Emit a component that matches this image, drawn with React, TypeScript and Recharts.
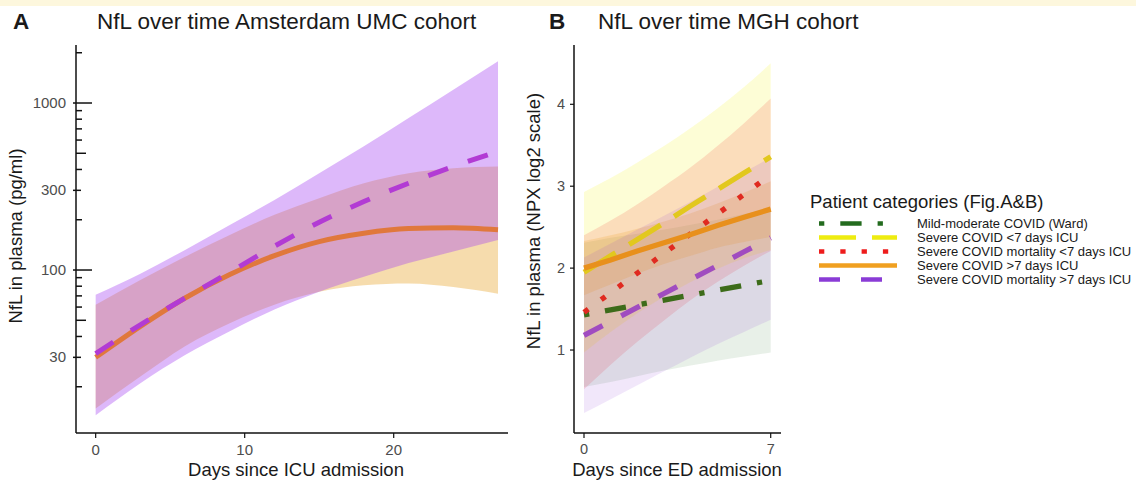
import { ComposedChart, Line, Area, XAxis, YAxis } from 'recharts'

// Panel A: Amsterdam UMC cohort (pg/ml, log10 axis)
const daysA = [0, 3, 6, 9, 12, 15, 18, 21, 24, 27]
const mortLongLineA = [31.6, 47, 68, 97, 139, 193, 257, 331, 417, 513]
const mortLongLowerA = [13.5, 21, 31, 43, 58, 74, 91, 110, 129, 151]
const mortLongUpperA = [71, 95, 132, 186, 263, 380, 550, 813, 1202, 1778]
const icuLongLineA = [30, 46, 68, 94, 122, 148, 166, 177, 179, 174]
const icuLongLowerA = [14.8, 23, 35, 48, 62, 74, 81, 83, 79, 72]
const icuLongUpperA = [62, 87, 120, 162, 214, 269, 331, 380, 407, 417]
const yTicksA = [20, 30, 40, 50, 60, 70, 80, 90, 100, 200, 300, 400, 500, 600, 700, 800, 900, 1000, 2000]
const yLabelledA = [30, 100, 300, 1000]
const xTicksA = [0, 10, 20]

// Panel B: MGH cohort (NPX log2)
const daysB = [0, 1, 2, 3, 4, 5, 6, 7]
const wardLine = [1.43, 1.49, 1.55, 1.61, 1.67, 1.73, 1.79, 1.85]
const wardLower = [0.55, 0.61, 0.68, 0.75, 0.81, 0.87, 0.92, 0.97]
const wardUpper = [2.31, 2.37, 2.42, 2.47, 2.53, 2.59, 2.66, 2.73]
const icuShortLine = [1.95, 2.15, 2.35, 2.55, 2.76, 2.96, 3.16, 3.36]
const icuShortLower = [0.97, 1.22, 1.45, 1.65, 1.83, 1.99, 2.12, 2.22]
const icuShortUpper = [2.93, 3.1, 3.29, 3.49, 3.71, 3.95, 4.21, 4.5]
const mortShortLine = [1.46, 1.7, 1.94, 2.18, 2.42, 2.66, 2.9, 3.14]
const mortShortLower = [0.52, 0.82, 1.1, 1.36, 1.61, 1.83, 2.03, 2.21]
const mortShortUpper = [2.4, 2.58, 2.78, 3.0, 3.23, 3.49, 3.77, 4.07]
const icuLongLine = [2.0, 2.1, 2.21, 2.31, 2.41, 2.52, 2.62, 2.72]
const icuLongLower = [1.67, 1.8, 1.93, 2.05, 2.15, 2.25, 2.32, 2.38]
const icuLongUpper = [2.33, 2.4, 2.48, 2.57, 2.67, 2.79, 2.92, 3.06]
const mortLongLine = [1.18, 1.35, 1.52, 1.69, 1.86, 2.03, 2.2, 2.37]
const mortLongLower = [0.23, 0.4, 0.57, 0.74, 0.91, 1.07, 1.22, 1.37]
const mortLongUpper = [2.13, 2.3, 2.47, 2.64, 2.81, 2.99, 3.17, 3.35]
const yTicksB = [1, 2, 3, 4]
const xTicksB = [0, 7]

const legendLabels = [
  'Mild-moderate COVID (Ward)',
  'Severe COVID <7 days ICU',
  'Severe COVID mortality <7 days ICU',
  'Severe COVID >7 days ICU',
  'Severe COVID mortality >7 days ICU',
]

// styles
const FONT = '"Liberation Sans", Arial, Helvetica, sans-serif'
const INK = '#1a1a1a'
const TICK = '#4d4d4d'
const legendColors = ['#236b1e', '#eeec10', '#ee1c1c', '#f0a020', '#8a3cd6']
const legendDashes = ['5.3 16 21.3 16', '37 16', '5.3 16', undefined, '21 21']

const dataA = daysA.map((d, i) => ({
  day: d,
  mortLine: mortLongLineA[i],
  icuLine: icuLongLineA[i],
  mortBand: [mortLongLowerA[i], mortLongUpperA[i]],
  icuBand: [icuLongLowerA[i], icuLongUpperA[i]],
}))

const dataB = daysB.map((d, i) => ({
  day: d,
  ward: wardLine[i],
  icuShort: icuShortLine[i],
  mortShort: mortShortLine[i],
  icuLong: icuLongLine[i],
  mortLong: mortLongLine[i],
  wardBand: [wardLower[i], wardUpper[i]],
  icuShortBand: [icuShortLower[i], icuShortUpper[i]],
  mortShortBand: [mortShortLower[i], mortShortUpper[i]],
  icuLongBand: [icuLongLower[i], icuLongUpper[i]],
  mortLongBand: [mortLongLower[i], mortLongUpper[i]],
}))

const axisLine = { stroke: '#111', strokeWidth: 1.5 }

function LogTick(props: any) {
  const { x, y, payload } = props
  const v = payload.value
  const lead = Math.round(v / Math.pow(10, Math.floor(Math.log10(v) + 1e-9)))
  let x1 = x
  let x2 = x + 6
  if (lead === 1) {
    x1 = x - 3
    x2 = x + 16
  } else if (lead === 3) {
    x1 = x - 3
    x2 = x + 5
  } else if (lead === 5) {
    x2 = x + 10
  }
  return (
    <g>
      <line x1={x1} x2={x2} y1={y} y2={y} stroke="#111" strokeWidth={1.5} />
      {yLabelledA.includes(v) && (
        <text x={x - 10} y={y} dy={5} textAnchor="end" fill={TICK} fontSize={15}>
          {v}
        </text>
      )}
    </g>
  )
}

export default function App() {
  return (
    <div style={{ position: 'absolute', left: 0, top: 0, width: 1136, height: 482, background: '#fff', fontFamily: FONT }}>
      <div style={{ position: 'absolute', left: 0, top: 0 }}>
        <ComposedChart width={520} height={482} data={dataA} margin={{ top: 45, right: 12, bottom: 19, left: 16 }}>
          <XAxis
            type="number"
            dataKey="day"
            domain={[-1.32, 27.67]}
            ticks={xTicksA}
            allowDataOverflow
            axisLine={axisLine}
            tickLine={{ stroke: '#111', strokeWidth: 1.2 }}
            tickSize={5}
            tickMargin={6}
            height={30}
            tick={{ fill: TICK, fontSize: 15 }}
          />
          <YAxis
            type="number"
            scale="log"
            domain={[10.57, 2225]}
            ticks={yTicksA}
            interval={0}
            allowDataOverflow
            axisLine={axisLine}
            tickLine={false}
            tickSize={0}
            tickMargin={0}
            width={60}
            tick={(p: any) => <LogTick {...p} />}
          />
          <Area type="monotone" dataKey="icuBand" fill="#e6a020" fillOpacity={0.37} stroke="none" isAnimationActive={false} />
          <Area type="monotone" dataKey="mortBand" fill="#a545f2" fillOpacity={0.38} stroke="none" isAnimationActive={false} />
          <Line type="monotone" dataKey="icuLine" stroke="#e0783c" strokeWidth={5} dot={false} isAnimationActive={false} />
          <Line type="monotone" dataKey="mortLine" stroke="#b23bd4" strokeWidth={5} strokeDasharray="21 21" dot={false} isAnimationActive={false} />
        </ComposedChart>
      </div>

      <div style={{ position: 'absolute', left: 520, top: 0 }}>
        <ComposedChart width={280} height={482} data={dataB} margin={{ top: 45, right: 19, bottom: 19, left: 14 }}>
          <XAxis
            type="number"
            dataKey="day"
            domain={[-0.375, 7.386]}
            ticks={xTicksB}
            allowDataOverflow
            axisLine={axisLine}
            tickLine={{ stroke: '#111', strokeWidth: 1.2 }}
            tickSize={5}
            tickMargin={6}
            height={30}
            tick={{ fill: TICK, fontSize: 14.5 }}
          />
          <YAxis
            type="number"
            domain={[-0.013, 4.724]}
            ticks={yTicksB}
            interval={0}
            allowDataOverflow
            axisLine={axisLine}
            tickLine={{ stroke: '#111', strokeWidth: 1.2 }}
            tickSize={4}
            tickMargin={5}
            width={40}
            tick={{ fill: TICK, fontSize: 14.5 }}
          />
          <Area type="monotone" dataKey="wardBand" fill="#1e6e1e" fillOpacity={0.1} stroke="none" isAnimationActive={false} />
          <Area type="monotone" dataKey="icuShortBand" fill="#f0f000" fillOpacity={0.16} stroke="none" isAnimationActive={false} />
          <Area type="monotone" dataKey="mortShortBand" fill="#ee1c1c" fillOpacity={0.14} stroke="none" isAnimationActive={false} />
          <Area type="monotone" dataKey="icuLongBand" fill="#f0a020" fillOpacity={0.2} stroke="none" isAnimationActive={false} />
          <Area type="monotone" dataKey="mortLongBand" fill="#8a3cd6" fillOpacity={0.12} stroke="none" isAnimationActive={false} />
          <Line type="linear" dataKey="ward" stroke="#3d6c1a" strokeWidth={5.3} strokeDasharray="5.3 16 21.3 16" dot={false} isAnimationActive={false} />
          <Line type="linear" dataKey="icuShort" stroke="#e2c81e" strokeWidth={5.3} strokeDasharray="37 16" dot={false} isAnimationActive={false} />
          <Line type="linear" dataKey="mortShort" stroke="#e02a20" strokeWidth={5.3} strokeDasharray="5.3 16" dot={false} isAnimationActive={false} />
          <Line type="linear" dataKey="icuLong" stroke="#e8901c" strokeWidth={5.3} dot={false} isAnimationActive={false} />
          <Line type="linear" dataKey="mortLong" stroke="#a04cc0" strokeWidth={5.3} strokeDasharray="21 21" dot={false} isAnimationActive={false} />
        </ComposedChart>
      </div>

      <svg width={1136} height={482} style={{ position: 'absolute', left: 0, top: 0, pointerEvents: 'none' }}>
        <rect x={0} y={0} width={1136} height={6} fill="#fdf7dd" />
        <text x={13} y={29} fontSize={22.5} fontWeight="bold" fill={INK}>A</text>
        <text x={97} y={29} fontSize={22.5} fill={INK}>NfL over time Amsterdam UMC cohort</text>
        <text x={549} y={29} fontSize={22.5} fontWeight="bold" fill={INK}>B</text>
        <text x={598} y={29} fontSize={22.5} fill={INK}>NfL over time MGH cohort</text>

        <text transform="translate(22,236) rotate(-90)" textAnchor="middle" fontSize={18.5} fill={INK}>NfL in plasma (pg/ml)</text>
        <text x={296} y={476} textAnchor="middle" fontSize={18.5} fill={INK}>Days since ICU admission</text>
        <text transform="translate(540,221) rotate(-90)" textAnchor="middle" fontSize={18.5} fill={INK}>NfL in plasma (NPX log2 scale)</text>
        <text x={677} y={476} textAnchor="middle" fontSize={18.5} fill={INK}>Days since ED admission</text>

        <text x={810} y={208} fontSize={18.5} fill={INK}>Patient categories (Fig.A&amp;B)</text>
        {legendLabels.map((label, i) => {
          const y = 223.5 + i * 14
          return (
            <g key={label}>
              <line x1={819} x2={897} y1={y} y2={y} stroke={legendColors[i]} strokeWidth={4.5} strokeDasharray={legendDashes[i]} />
              <text x={917} y={y + 4.6} fontSize={13} fill={INK}>{label}</text>
            </g>
          )
        })}
      </svg>
    </div>
  )
}
